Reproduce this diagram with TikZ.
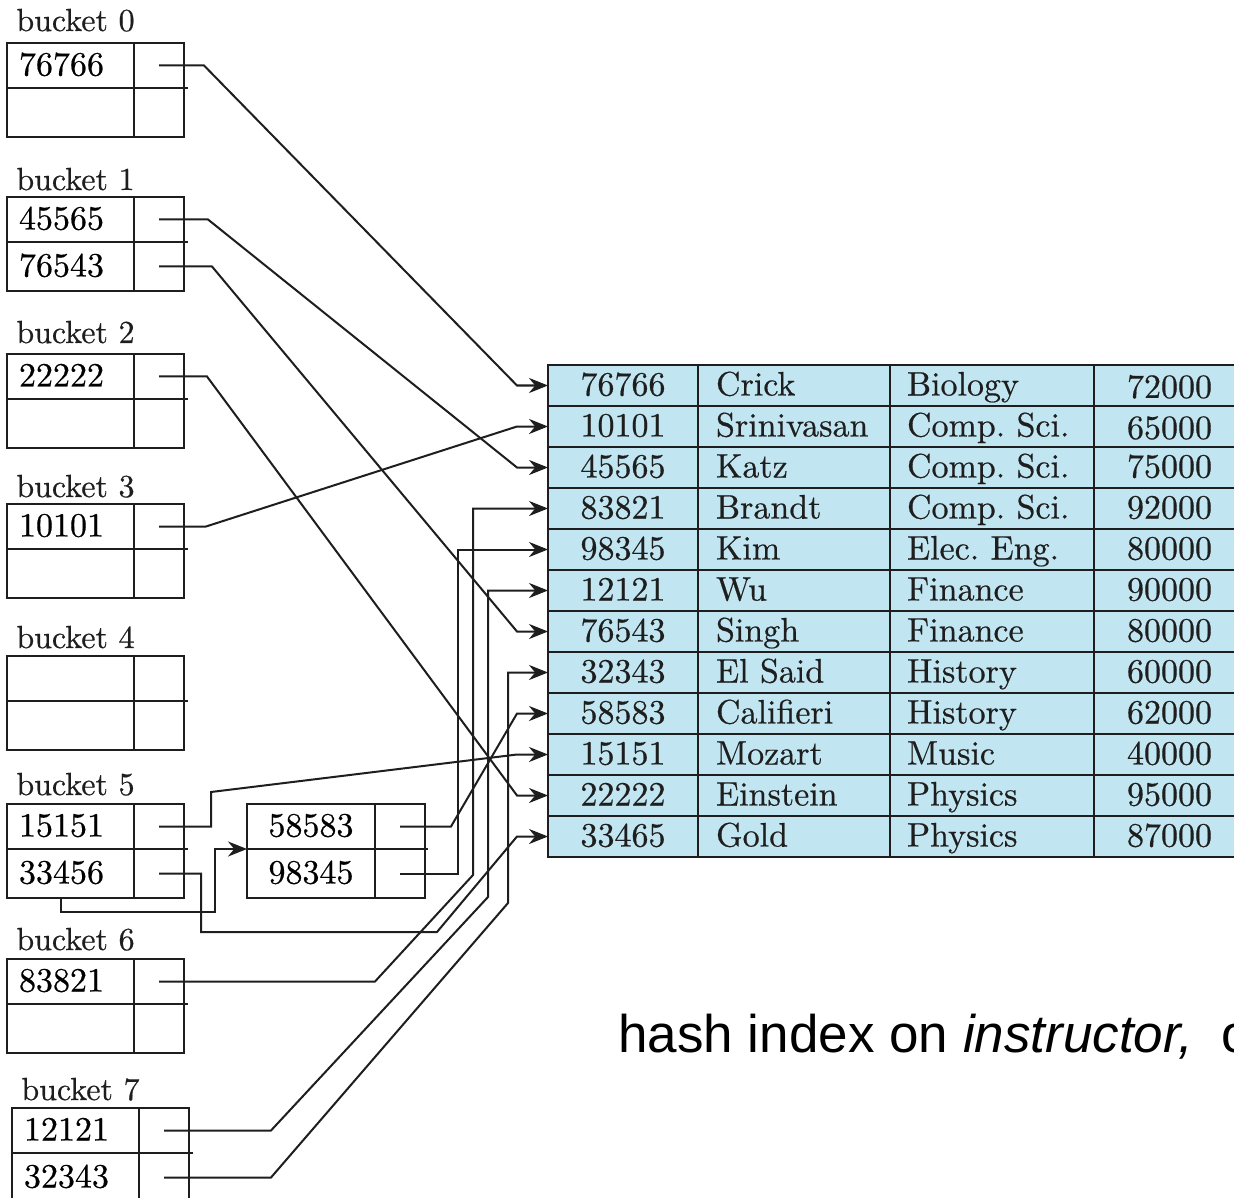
\documentclass[tikz,border=0pt]{standalone}
\usepackage{fontspec}
\setmainfont{lmroman10-regular.otf}[FakeBold=0.5]
\newfontfamily\capfont{Liberation Sans}
\usetikzlibrary{arrows.meta}
\frenchspacing
\definecolor{tblue}{RGB}{193,230,241}
\definecolor{ink}{RGB}{30,30,30}
\newcommand\valfont{\fontsize{17pt}{20pt}\selectfont}
\newcommand\lblfont{\fontsize{16pt}{19pt}\selectfont}
\tikzset{
  frame/.style={draw=ink, line width=1pt},
  cellbase/.style={draw=ink, line width=1pt, outer sep=0pt, inner ysep=0pt, anchor=north west},
  kc/.style={cellbase, text width=51.5pt, inner xsep=6pt, align=left, text height=13pt, text depth=3pt, font=\valfont},
  kctop/.style={kc, minimum height=22.5pt},
  kcbot/.style={kc, minimum height=24.5pt},
  pc/.style={cellbase, minimum width=25pt, inner xsep=0pt},
  pctop/.style={pc, minimum height=22.5pt},
  pcbot/.style={pc, minimum height=24.5pt},
  ovk/.style={cellbase, minimum width=64pt, inner xsep=0pt, text height=13pt, text depth=3pt, font=\valfont},
  lbl/.style={anchor=base west, inner sep=0pt, font=\lblfont, text=ink},
  conn/.style={draw=ink, line width=1pt, -{Stealth[length=9.5pt,width=7.5pt]}},
  tc/.style={draw=ink, fill=tblue, line width=1pt, outer sep=0pt, inner ysep=0pt, minimum height=20.5pt, text height=13pt, text depth=3pt, font=\valfont, text=ink},
  tid/.style={tc, minimum width=75pt, inner xsep=0pt},
  tnm/.style={tc, text width=78pt, inner xsep=9pt, align=left},
  tdp/.style={tc, text width=85pt, inner xsep=8.5pt, align=left},
  tsl/.style={tc, text width=52pt, inner xsep=16.5pt, align=left},
}
\newcommand\bkbox[6]{%
  \node[lbl] (L#1) at (#2+9,#4) {bucket #1};
  \node[kctop] (k#1a) at (#2,#3) {#5};
  \node[pctop] (p#1a) at (#2+127,#3) {};
  \node[kcbot] (k#1b) at (#2,#3+45) {#6};
  \node[pcbot] (p#1b) at (#2+127,#3+45) {};
  \draw[frame] (p#1a.south east) -- ++(4,0);
}
\begin{document}
\begin{tikzpicture}[x=0.5pt,y=-0.5pt]
\useasboundingbox (0,0) rectangle (1234,1197);
\fill[white] (0,0) rectangle (1234,1197);
\clip (0,0) rectangle (1234,1197);

% table
\foreach \ri/\vid/\vnm/\vdept/\vsal/\sdy in {1/76766/Crick/Biology/72000/1.2,
  2/10101/Srinivasan/Comp. Sci./65000/1.2,
  3/45565/Katz/Comp. Sci./75000/0,
  4/83821/Brandt/Comp. Sci./92000/0,
  5/98345/Kim/Elec. Eng./80000/0,
  6/12121/Wu/Finance/90000/0,
  7/76543/Singh/Finance/80000/0,
  8/32343/El Said/History/60000/0,
  9/58583/Califieri/History/62000/0,
  10/15151/Mozart/Music/40000/0,
  11/22222/Einstein/Physics/95000/0,
  12/33465/Gold/Physics/87000/0}{
  \pgfmathsetmacro\yc{385.5+41*(\ri-1)}
  \node[tid] (r\ri) at (623,\yc) {\vid};
  \node[tnm] (n\ri) at (794,\yc) {\vnm};
  \node[tdp] (d\ri) at (992,\yc) {\vdept};
  \node[tsl] (s\ri) at (1179,\yc) {\raisebox{-\sdy pt}{\vsal}};
}

% buckets
\bkbox{0}{7}{43}{31}{76766}{}
\bkbox{1}{7}{197}{190}{45565}{76543}
\bkbox{2}{7}{354}{343}{22222}{}
\bkbox{3}{7}{504}{497}{10101}{}
\bkbox{4}{7}{656}{648}{}{}
\bkbox{5}{7}{804}{795}{15151}{33456}
\bkbox{6}{7}{959}{950}{83821}{}
\bkbox{7}{12}{1108}{1100}{12121}{32343}

% overflow bucket
\node[ovk, minimum height=22.5pt] (o1k) at (247,804) {58583};
\node[pctop] (o1p) at (375,804) {};
\node[ovk, minimum height=24.5pt] (o2k) at (247,849) {98345};
\node[pcbot] (o2p) at (375,849) {};
\draw[frame] (o1p.south east) -- ++(3,0);

% pointers
\draw[conn] (p0a.center) -- (204,65.5) -- ([xshift=-15.5pt]r1.west) -- (r1.west);
\draw[conn] (p1a.center) -- (208,219.5) -- ([xshift=-15.5pt]r3.west) -- (r3.west);
\draw[conn] (p1b.center) -- (212,266.5) -- ([xshift=-15.5pt]r7.west) -- (r7.west);
\draw[conn] (p2a.center) -- (207,376.5) -- ([xshift=-15.5pt]r11.west) -- (r11.west);
\draw[conn] (p3a.center) -- (206,526.5) -- ([xshift=-15.5pt]r2.west) -- (r2.west);
\draw[conn] (p5a.center) -- (211,826.5) -- (211,792) -- ([xshift=-15.5pt]r10.west) -- (r10.west);
\draw[conn] (p5b.center) -- (201,873.5) -- (201,932) -- (437,932) -- ([xshift=-15.5pt]r12.west) -- (r12.west);
\draw[conn] ([xshift=27pt]k5b.south west) -- ++(0,14) -- (215,912) |- (o1k.south west);
\draw[conn] (o1p.center) -- (451,826.5) -- ([xshift=-15.5pt]r9.west) -- (r9.west);
\draw[conn] (o2p.center) -- (458,873.5) |- (r5.west);
\draw[conn] (p6a.center) -- (375,981.5) -- (473,875) |- (r4.west);
\draw[conn] (p7a.center) -- (271,1130.5) -- (488,897) |- (r6.west);
\draw[conn] (p7b.center) -- (271,1177.5) -- (508,903) |- (r8.west);

% caption
\node[anchor=base west, inner sep=0pt, font=\capfont\fontsize{26.5pt}{30pt}\selectfont, text=black] (cap) at (618,1052) {hash index on \textit{instructor,}\hspace{7pt} on attribute \textit{ID}};
\end{tikzpicture}
\end{document}
